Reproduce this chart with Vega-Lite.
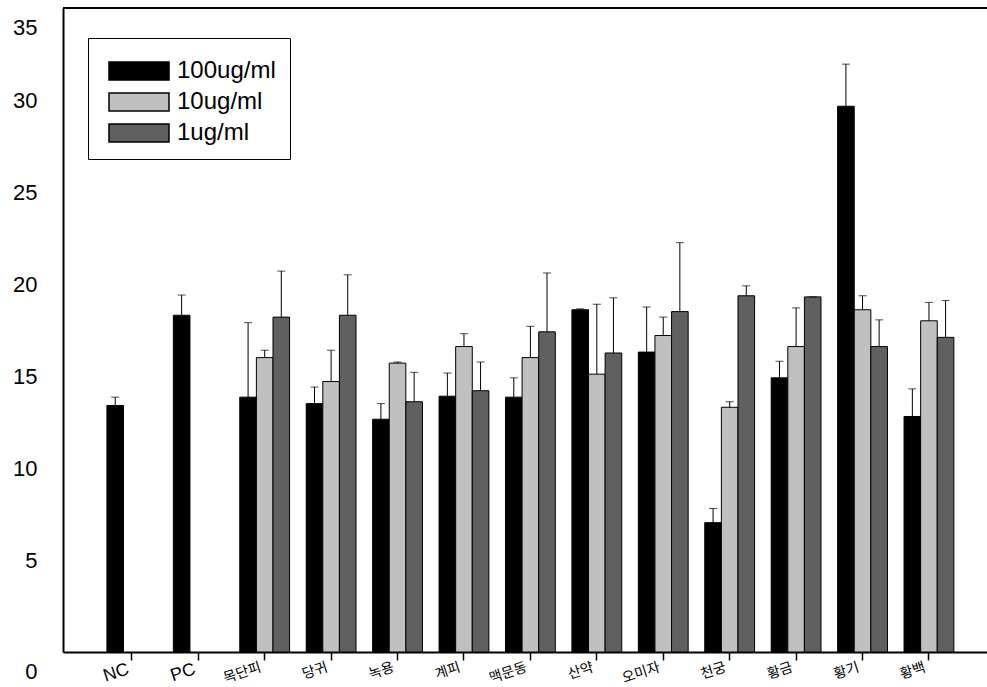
{
  "$schema": "https://vega.github.io/schema/vega-lite/v6.json",
  "width": 924,
  "height": 644,
  "autosize": "none",
  "padding": {"left": 63, "top": 8, "right": 0, "bottom": 35},
  "background": "white",
  "config": {
    "view": {"stroke": null},
    "font": "Liberation Sans, Noto Sans CJK KR",
    "axis": {"domainColor": "black", "domainWidth": 2, "labelColor": "black", "tickColor": "black", "grid": false, "labelFont": "Liberation Sans, Noto Sans CJK KR"}
  },
  "data": {
    "values": [
      {"g": "NC", "s": "100ug/ml", "v": 13.4, "e": 13.85},
      {"g": "PC", "s": "100ug/ml", "v": 18.3, "e": 19.4},
      {"g": "목단피", "s": "100ug/ml", "v": 13.85, "e": 17.9},
      {"g": "목단피", "s": "10ug/ml", "v": 16.0, "e": 16.4},
      {"g": "목단피", "s": "1ug/ml", "v": 18.2, "e": 20.7},
      {"g": "당귀", "s": "100ug/ml", "v": 13.5, "e": 14.4},
      {"g": "당귀", "s": "10ug/ml", "v": 14.7, "e": 16.4},
      {"g": "당귀", "s": "1ug/ml", "v": 18.3, "e": 20.5},
      {"g": "녹용", "s": "100ug/ml", "v": 12.65, "e": 13.5},
      {"g": "녹용", "s": "10ug/ml", "v": 15.7, "e": 15.76},
      {"g": "녹용", "s": "1ug/ml", "v": 13.6, "e": 15.2},
      {"g": "계피", "s": "100ug/ml", "v": 13.9, "e": 15.16},
      {"g": "계피", "s": "10ug/ml", "v": 16.6, "e": 17.3},
      {"g": "계피", "s": "1ug/ml", "v": 14.2, "e": 15.76},
      {"g": "맥문동", "s": "100ug/ml", "v": 13.85, "e": 14.9},
      {"g": "맥문동", "s": "10ug/ml", "v": 16.0, "e": 17.7},
      {"g": "맥문동", "s": "1ug/ml", "v": 17.4, "e": 20.6},
      {"g": "산약", "s": "100ug/ml", "v": 18.6, "e": 18.65},
      {"g": "산약", "s": "10ug/ml", "v": 15.1, "e": 18.9},
      {"g": "산약", "s": "1ug/ml", "v": 16.25, "e": 19.25},
      {"g": "오미자", "s": "100ug/ml", "v": 16.3, "e": 18.75},
      {"g": "오미자", "s": "10ug/ml", "v": 17.2, "e": 18.2},
      {"g": "오미자", "s": "1ug/ml", "v": 18.5, "e": 22.25},
      {"g": "천궁", "s": "100ug/ml", "v": 7.03, "e": 7.8},
      {"g": "천궁", "s": "10ug/ml", "v": 13.3, "e": 13.6},
      {"g": "천궁", "s": "1ug/ml", "v": 19.36, "e": 19.9},
      {"g": "황금", "s": "100ug/ml", "v": 14.9, "e": 15.8},
      {"g": "황금", "s": "10ug/ml", "v": 16.6, "e": 18.7},
      {"g": "황금", "s": "1ug/ml", "v": 19.3, "e": 19.3},
      {"g": "황기", "s": "100ug/ml", "v": 29.66, "e": 31.95},
      {"g": "황기", "s": "10ug/ml", "v": 18.6, "e": 19.36},
      {"g": "황기", "s": "1ug/ml", "v": 16.6, "e": 18.05},
      {"g": "황백", "s": "100ug/ml", "v": 12.8, "e": 14.3},
      {"g": "황백", "s": "10ug/ml", "v": 18.0, "e": 19.0},
      {"g": "황백", "s": "1ug/ml", "v": 17.1, "e": 19.1}
    ]
  },
  "layer": [
    {
      "encoding": {
        "x": {
          "field": "g", "type": "nominal", "sort": null,
          "scale": {"paddingInner": 0.25, "paddingOuter": 0.58, "align": 0.57},
          "axis": {
            "title": null, "labelAngle": -18, "labelAlign": "right", "labelBaseline": "top",
            "labelPadding": 0, "labelOffset": -6, "tickSize": 8, "tickWidth": 1.5,
            "labelFontSize": {"condition": {"test": "datum.value == 'NC' || datum.value == 'PC'", "value": 18}, "value": 14}
          }
        },
        "xOffset": {"field": "s", "type": "nominal", "scale": {"domain": ["100ug/ml", "10ug/ml", "1ug/ml"]}}
      },
      "layer": [
        {
          "mark": {"type": "bar", "stroke": "black", "strokeWidth": 1},
          "encoding": {
            "y": {
              "field": "v", "type": "quantitative",
              "scale": {"domain": [0, 35], "nice": false},
              "axis": {
                "title": null, "values": [0, 5, 10, 15, 20, 25, 30, 35], "ticks": false,
                "labelPadding": 26, "labelFontSize": 22,
                "labelOffset": {"condition": {"test": "datum.value == 0 || datum.value == 35", "value": 19}, "value": 0}
              }
            },
            "color": {
              "field": "s", "type": "nominal",
              "scale": {"domain": ["100ug/ml", "10ug/ml", "1ug/ml"], "range": ["#000000", "#c0c0c0", "#606060"]},
              "legend": {
                "title": null, "orient": "none", "legendX": 25, "legendY": 30,
                "strokeColor": "black", "fillColor": "white", "padding": 14,
                "symbolType": "M-1.667,-0.5H1.667V0.5H-1.667Z", "symbolSize": 1296,
                "symbolStrokeColor": "black", "symbolStrokeWidth": 1.5,
                "symbolOffset": 18, "labelOffset": 19,
                "labelFontSize": 24, "rowPadding": -4, "labelColor": "black"
              }
            }
          }
        },
        {
          "mark": {"type": "rule", "color": "black", "strokeWidth": 1},
          "encoding": {
            "y": {"field": "v", "type": "quantitative"},
            "y2": {"field": "e"}
          }
        },
        {
          "mark": {"type": "tick", "color": "black", "size": 8, "thickness": 1},
          "encoding": {
            "y": {"field": "e", "type": "quantitative"}
          }
        }
      ]
    },
    {
      "mark": {"type": "rule", "color": "black", "strokeWidth": 2},
      "encoding": {"y": {"datum": 35}}
    }
  ]
}
